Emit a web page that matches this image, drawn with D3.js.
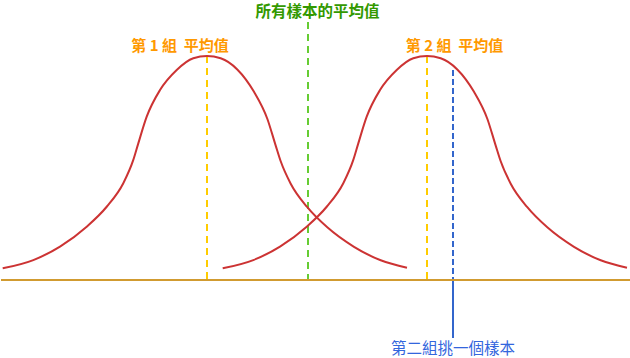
<!DOCTYPE html>
<html><head><meta charset="utf-8">
<script src="https://cdn.jsdelivr.net/npm/d3@7"></script>
<style>html,body{margin:0;padding:0;background:#fff;}svg{display:block;}text{white-space:pre;}</style>
</head><body>
<svg id="chart" width="630" height="358"></svg>
<script>
// Data (x in score units, density relative to the peak)
const group1Mean = 20.7;
const group2Mean = 42.7;
const overallMean = 30.8;
const sampleValue = 45.3;
const curveOffsets = [-20.43,-17.37,-14.7,-12.03,-10.03,-8.37,-7.37,-6.87,-6.03,-4.7,-3.03,-1.37,0,
                      1.37,3.03,4.7,6.03,6.87,7.37,8.37,10.03,12.03,14.7,17.37,20.0];
const curveDensity = [0.052,0.089,0.149,0.238,0.327,0.432,0.536,0.610,0.729,0.848,0.9375,0.990,1.0,
                      0.99,0.94,0.84,0.72,0.60,0.53,0.43,0.325,0.235,0.148,0.088,0.055];
const labels = {
  overall: "所有樣本的平均值",
  group1: "第 1 組  平均值",
  group2: "第 2 組  平均值",
  sample: "第二組挑一個樣本"
};

const svg = d3.select("#chart");
const x = d3.scaleLinear().domain([0, 63]).range([0, 630]);
const y = d3.scaleLinear().domain([0, 1]).range([280, 56]);
const font = "'Noto Sans CJK TC','Noto Sans CJK SC',sans-serif";

const line = d3.line().x(d => x(d[0])).y(d => y(d[1])).curve(d3.curveMonotoneX);

// dashed vertical lines
function vline(xv, y0, y1, color, dash, w) {
  svg.append("line").attr("x1", x(xv)).attr("x2", x(xv)).attr("y1", y0).attr("y2", y1)
    .attr("stroke", color).attr("stroke-width", w).attr("stroke-dasharray", dash);
}
vline(group1Mean, y(1), y(0), "#ffcc00", "7,5", 2);
vline(group2Mean, y(1), y(0), "#ffcc00", "7,5", 2);
vline(overallMean, 22, y(0), "#66cc33", "7,5", 2);
vline(sampleValue, 70, y(0), "#3366cc", "6,3", 2);
// solid part below baseline
svg.append("line").attr("x1", x(sampleValue)).attr("x2", x(sampleValue))
  .attr("y1", y(0)).attr("y2", 338).attr("stroke", "#3366cc").attr("stroke-width", 2);

// curves
[group1Mean, group2Mean].forEach(m => {
  const pts = curveOffsets.map((o, i) => [m + o, curveDensity[i]]);
  svg.append("path").attr("d", line(pts)).attr("fill", "none")
    .attr("stroke", "#cc3333").attr("stroke-width", 2);
});

// baseline
svg.append("line").attr("x1", 1).attr("x2", 630).attr("y1", y(0)).attr("y2", y(0))
  .attr("stroke", "#d19b30").attr("stroke-width", 2);

// labels
function label(txt, cx, by, color, size, weight) {
  svg.append("text").attr("x", cx).attr("y", by).attr("text-anchor", "middle")
    .attr("xml:space", "preserve")
    .attr("fill", color).attr("font-family", font).attr("font-size", size)
    .attr("font-weight", weight).text(txt);
}
label(labels.overall, 317.5, 17, "#339900", 15.5, "bold");
label(labels.group1, 180, 51, "#ff9900", 15, "bold");
label(labels.group2, 454.5, 51, "#ff9900", 15, "bold");
label(labels.sample, 453, 354, "#3366dd", 15.5, "normal");
</script>
</body></html>
